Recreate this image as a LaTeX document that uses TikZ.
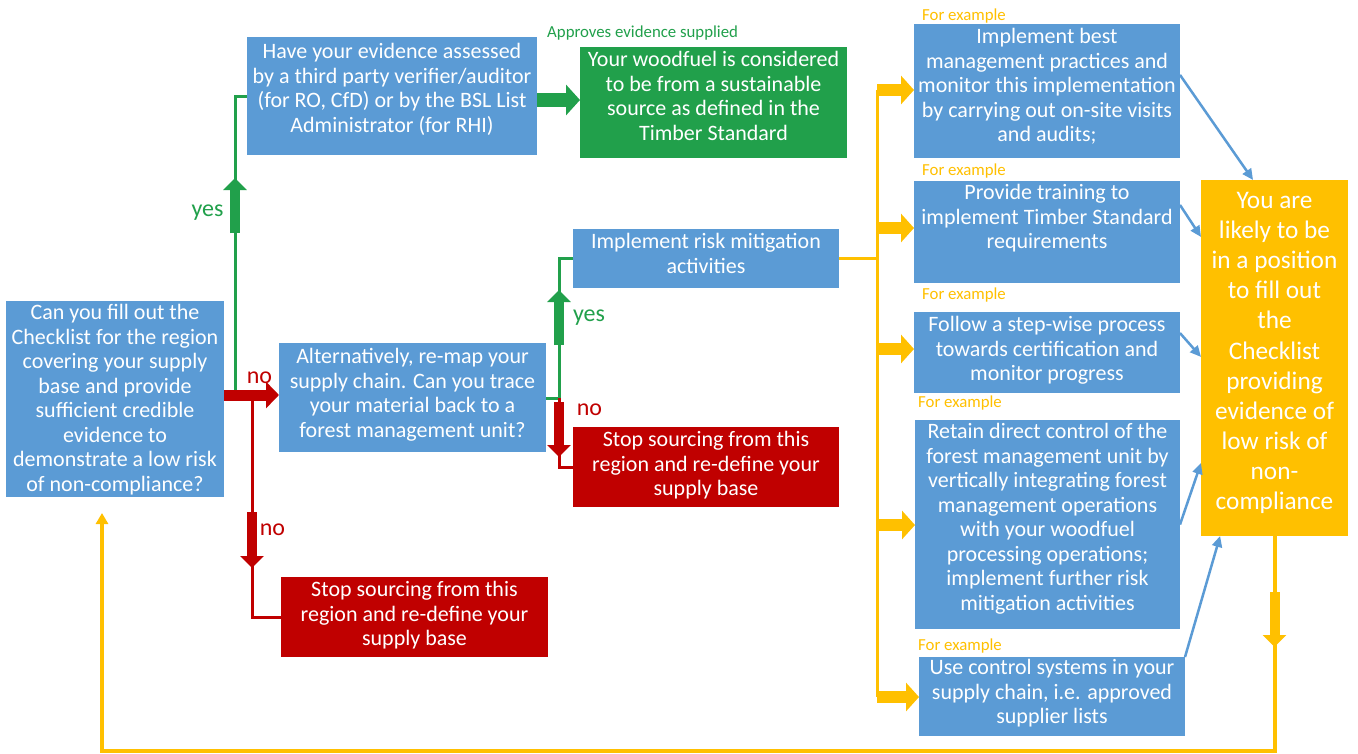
\documentclass[tikz,border=0pt]{standalone}
\usepackage{fontspec}
\setmainfont{Carlito}
\usetikzlibrary{arrows.meta,calc,decorations.markings}
\definecolor{cblue}{RGB}{91,155,213}
\definecolor{cgreen}{RGB}{33,160,75}
\definecolor{cred}{RGB}{192,0,0}
\definecolor{cyellow}{RGB}{255,192,0}
\newcommand\bt[4]{\parbox[c][#2pt][t]{#1pt}{\centering\vspace*{#3pt}\strut#4}}
\tikzset{
  box/.style={rectangle,inner sep=0pt,outer sep=0pt,text=white,font=\fontsize{22}{24.5}\selectfont},
  bigbox/.style={box,font=\fontsize{25.3}{30.1}\selectfont},
  conn/.style={line width=3pt},
  blkmark/.style n args={3}{postaction={decorate,decoration={markings,mark=at position #1pt with {\draw[#3,line width=10pt,-{Triangle[width=23pt,length=12pt]}] (-#2,0) -- (#2,0);}}}},
  fullarr/.style n args={3}{line width=#1pt,-{Triangle[width=#2pt,length=#3pt]}},
  lbl/.style={inner sep=0pt,font=\fontsize{16.8}{18}\selectfont},
  yn/.style={inner sep=0pt,font=\fontsize{24}{26}\selectfont},
  barrow/.style={draw=cblue,line width=2.5pt,-{Triangle[width=10pt,length=11pt]}},
}
\begin{document}
\begin{tikzpicture}[x=1pt,y=-1pt]
\path[fill=white,use as bounding box] (0,0) rectangle (1358,753);

% boxes
\node[box,fill=cblue] (A) at (115,399) {\bt{218}{196}{1.5}{Can you fill out the\\Checklist for the region\\covering your supply\\base and provide\\sufficient credible\\evidence to\\demonstrate a low risk\\of non-compliance?}};
\node[box,fill=cblue] (B) at (392,96) {\bt{290}{118}{4.5}{Have your evidence assessed\\by a third party verifier/auditor\\(for RO, CfD) or by the BSL List\\Administrator (for RHI)}};
\node[box,fill=cgreen] (C) at (713.5,102.5) {\bt{267}{111}{2.5}{Your woodfuel is considered\\to be from a sustainable\\source as defined in the\\Timber Standard}};
\node[box,fill=cblue] (D) at (412.5,397.5) {\bt{267}{109}{3.5}{Alternatively, re-map your\\supply chain. Can you trace\\your material back to a\\forest management unit?}};
\node[box,fill=cblue] (E) at (706,258.5) {\bt{266}{59}{2.5}{Implement risk mitigation\\activities}};
\node[box,fill=cred] (F) at (706,467) {\bt{266}{80}{2.5}{Stop sourcing from this\\region and re-define your\\supply base}};
\node[box,fill=cred] (G) at (414.5,617) {\bt{267}{80}{2.5}{Stop sourcing from this\\region and re-define your\\supply base}};
\node[box,fill=cblue] (H1) at (1047,91) {\bt{266}{134}{2.5}{Implement best\\management practices and\\monitor this implementation\\by carrying out on-site visits\\and audits;}};
\node[box,fill=cblue] (H2) at (1047,232) {\bt{266}{102}{1.5}{Provide training to\\implement Timber Standard\\requirements}};
\node[box,fill=cblue] (H3) at (1047,352.5) {\bt{266}{81}{2.5}{Follow a step-wise process\\towards certification and\\monitor progress}};
\node[box,fill=cblue] (H4) at (1047.5,524.5) {\bt{265}{209}{1.5}{Retain direct control of the\\forest management unit by\\vertically integrating forest\\management operations\\with your woodfuel\\processing operations;\\implement further risk\\mitigation activities}};
\node[box,fill=cblue] (H5) at (1052,696.5) {\bt{266}{79}{0.5}{Use control systems in your\\supply chain, i.e. approved\\supplier lists}};
\node[bigbox,fill=cyellow] (Y) at (1274.5,358) {\bt{147}{356}{7.5}{You are\\likely to be\\in a position\\to fill out\\the\\Checklist\\providing\\evidence of\\low risk of\\non-\\compliance}};

% labels
\node[lbl,text=cgreen,anchor=west] (ap) at (547,33) {Approves evidence supplied};
\node[lbl,text=cyellow,anchor=west] (fe1) at (922,16) {For example};
\node[lbl,text=cyellow,anchor=west] (fe2) at (922,171) {For example};
\node[lbl,text=cyellow,anchor=west] (fe3) at (922,295) {For example};
\node[lbl,text=cyellow,anchor=west] (fe4) at (918,403) {For example};
\node[lbl,text=cyellow,anchor=west] (fe5) at (918,646) {For example};
\node[yn,text=cgreen] (y1) at (207.5,213) {yes};
\node[yn,text=cgreen] (y2) at (589,318) {yes};
\node[yn,text=cred] (n1) at (259.5,378) {no};
\node[yn,text=cred] (n2) at (272.5,530) {no};
\node[yn,text=cred] (n3) at (589.5,410) {no};

% junctions
\coordinate (gA) at (235,395);
\coordinate (rA) at (252,395);
\coordinate (k) at (559,398);
\coordinate (yt) at (877,90);
\coordinate (yb) at (877,697);
\coordinate (ybl) at (102,750.5);
\coordinate (aret) at (102,513);

% connectors
\draw[conn,cgreen,blkmark={189.5}{27.5}{cgreen}] (gA) |- (B.west);
\draw[cred,fullarr={11}{26}{13}] (A.east |- gA) -- (D.west |- gA);
\draw[conn,cred,blkmark={145}{28}{cred}] (rA) |- (G.west);
\draw[conn,cgreen,blkmark={93.5}{27.5}{cgreen}] (D.east |- k) -- (k) |- (E.west);
\draw[conn,cred,blkmark={31.5}{27.5}{cred}] (k) |- (F.west);
\draw[cgreen,fullarr={14}{30}{14}] ([yshift=-4pt]B.east) -- ([yshift=-4pt]B.east -| C.west);

\draw[conn,cyellow] (E.east) -- (E.east -| yt);
\draw[conn,cyellow] (yt) -- (yb);
\draw[cyellow,fullarr={12}{28}{13}] ([yshift=1pt]H1.west -| yt) -- ([yshift=1pt]H1.west);
\draw[cyellow,fullarr={12}{28}{13}] ([yshift=4pt]H2.west -| yt) -- ([yshift=4pt]H2.west);
\draw[cyellow,fullarr={12}{28}{13}] ([yshift=3.5pt]H3.west -| yt) -- ([yshift=3.5pt]H3.west);
\draw[cyellow,fullarr={12}{28}{13}] ([yshift=-0.5pt]H4.west -| yt) -- ([yshift=-0.5pt]H4.west);
\draw[cyellow,fullarr={12}{28}{13}] ([yshift=-0.5pt]H5.west -| yt) -- ([yshift=-0.5pt]H5.west);

\draw[cyellow,line width=4pt,blkmark={83.5}{27.5}{cyellow},-{Triangle[width=12pt,length=11pt]}] (Y.south) |- (ybl) -- (aret);

\draw[barrow] ($(H1.north east)!0.38!(H1.south east)$) -- ($(Y.north west)!0.354!(Y.north east)$);
\draw[barrow] ($(H2.north east)!0.235!(H2.south east)$) -- ($(Y.north west)!0.16!(Y.south west)$);
\draw[barrow] ($(H3.north east)!0.26!(H3.south east)$) -- ($(Y.north west)!0.497!(Y.south west)$);
\draw[barrow] (H4.east) -- ($(Y.north west)!0.795!(Y.south west)$);
\draw[barrow] (H5.north east) -- ($(Y.south west)!0.13!(Y.south east)$);
\end{tikzpicture}
\end{document}
